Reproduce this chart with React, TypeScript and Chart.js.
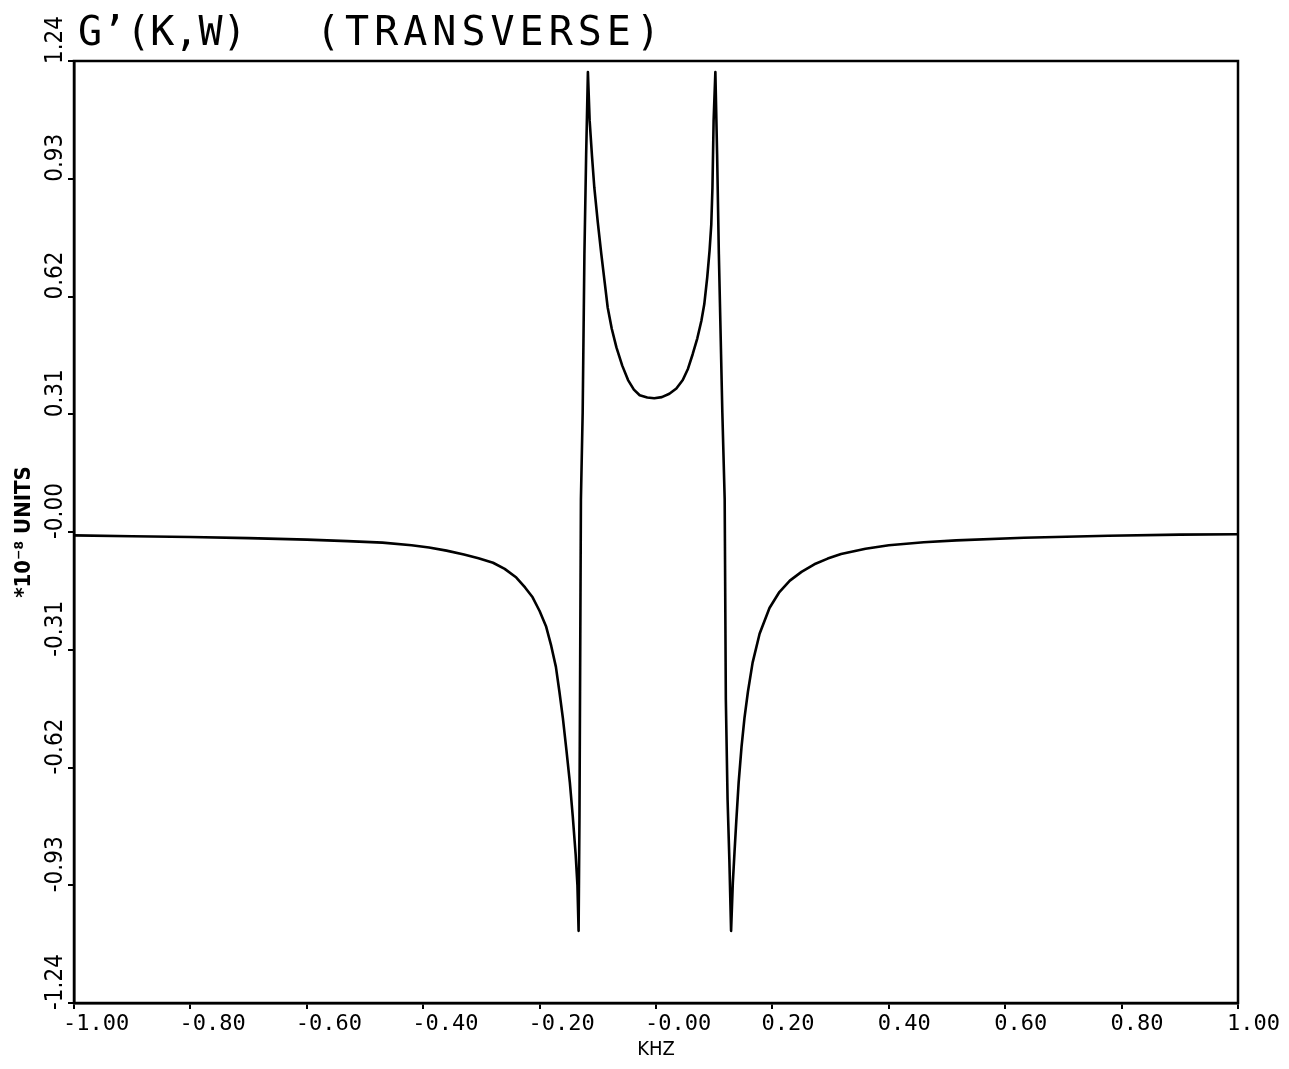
import React, { useEffect, useRef } from "react";
import { Chart, registerables } from "chart.js";

Chart.register(...registerables);

// ---- data ----
const freqKHz = [
  -1.0, -0.9, -0.8, -0.7, -0.6, -0.53, -0.47, -0.42, -0.39, -0.36, -0.33, -0.305,
  -0.28, -0.26, -0.24, -0.225, -0.212, -0.2, -0.189, -0.18, -0.172, -0.166, -0.16,
  -0.154, -0.148, -0.143, -0.138, -0.135, -0.133, -0.1315, -0.129, -0.126,
  -0.123, -0.12, -0.117, -0.114, -0.11, -0.106, -0.1, -0.094, -0.088, -0.083,
  -0.076, -0.068, -0.058, -0.048, -0.038, -0.028, -0.015, -0.003, 0.01, 0.023,
  0.035, 0.046, 0.055, 0.063, 0.071, 0.078, 0.083, 0.088, 0.092, 0.095, 0.097, 0.099,
  0.102, 0.105, 0.108, 0.114, 0.118, 0.12, 0.123, 0.126, 0.129, 0.132, 0.135,
  0.138, 0.142, 0.147, 0.152, 0.158, 0.166, 0.178, 0.195, 0.212, 0.23, 0.25,
  0.272, 0.295, 0.318, 0.36, 0.4, 0.46, 0.516, 0.632, 0.777, 0.9, 1.0,
];
const gPrimeTransverse = [
  -0.009, -0.011, -0.013, -0.016, -0.02, -0.024, -0.028, -0.035, -0.041, -0.049,
  -0.059, -0.069, -0.081, -0.097, -0.12, -0.146, -0.172, -0.208, -0.248, -0.3,
  -0.355, -0.42, -0.49, -0.573, -0.66, -0.749, -0.85, -0.93, -1.05, -0.75,
  0.086, 0.314, 0.732, 0.995, 1.211, 1.083, 0.99, 0.907, 0.815, 0.732, 0.655,
  0.591, 0.535, 0.486, 0.438, 0.4, 0.375, 0.36, 0.354, 0.352, 0.355, 0.364, 0.378,
  0.4, 0.43, 0.468, 0.51, 0.556, 0.6, 0.67, 0.74, 0.81, 0.907, 1.083, 1.211, 0.995,
  0.732, 0.314, 0.086, -0.441, -0.705, -0.86, -1.05, -0.924, -0.84, -0.76, -0.66,
  -0.565, -0.49, -0.42, -0.344, -0.268, -0.2, -0.158, -0.128, -0.105, -0.085,
  -0.07, -0.058, -0.044, -0.035, -0.027, -0.022, -0.015, -0.01, -0.007, -0.006,
];

const xTickValues = [-1.0, -0.8, -0.6, -0.4, -0.2, 0.0, 0.2, 0.4, 0.6, 0.8, 1.0];
const xTickLabels = ["-1.00", "-0.80", "-0.60", "-0.40", "-0.20", "-0.00", "0.20", "0.40", "0.60", "0.80", "1.00"];
const yTickValues = [-1.24, -0.93, -0.62, -0.31, 0.0, 0.31, 0.62, 0.93, 1.24];
const yTickLabels = ["-1.24", "-0.93", "-0.62", "-0.31", "-0.00", "0.31", "0.62", "0.93", "1.24"];

const titleLeft = "G’(K,W)";
const titleRight = "(TRANSVERSE)";
const xAxisTitle = "KHZ";
const yAxisTitle = "*10⁻⁸ UNITS";

const MONO = "'DejaVu Sans Mono', 'Liberation Mono', monospace";
const NARROW = "'Liberation Sans Narrow', 'DejaVu Sans Condensed', sans-serif";

const framePlugin = {
  id: "frameAndTitle",
  afterDraw(chart: any) {
    const { ctx, chartArea } = chart;
    ctx.save();
    ctx.strokeStyle = "#000";
    ctx.lineWidth = 2.5;
    ctx.strokeRect(chartArea.left, chartArea.top, chartArea.right - chartArea.left, chartArea.bottom - chartArea.top);
    ctx.fillStyle = "#000";
    ctx.font = `40px ${MONO}`;
    ctx.textBaseline = "alphabetic";
    ctx.textAlign = "left";
    try { (ctx as any).letterSpacing = "0px"; } catch (e) {}
    ctx.fillText(titleLeft, 78, 45);
    try { (ctx as any).letterSpacing = "5px"; } catch (e) {}
    ctx.fillText(titleRight, 316, 45);
    ctx.restore();
  },
};

export default function App() {
  const ref = useRef<HTMLCanvasElement | null>(null);

  useEffect(() => {
    if (!ref.current) return;
    const chart = new Chart(ref.current, {
      type: "line",
      data: {
        datasets: [
          {
            data: freqKHz.map((x, i) => ({ x, y: gPrimeTransverse[i] })),
            borderColor: "#000",
            borderWidth: 2.6,
            pointRadius: 0,
            tension: 0,
            borderJoinStyle: "round",
            fill: false,
          },
        ],
      },
      options: {
        responsive: false,
        animation: false,
        events: [],
        layout: { autoPadding: false, padding: { left: 0, top: 61, right: 51, bottom: 0 } },
        plugins: { legend: { display: false }, tooltip: { enabled: false }, title: { display: false } },
        scales: {
          x: {
            type: "linear",
            position: "bottom",
            min: -1,
            max: 1,
            afterBuildTicks: (s: any) => { s.ticks = xTickValues.map((v) => ({ value: v })); },
            afterFit: (s: any) => { s.height = 66; s.paddingLeft = 0; s.paddingRight = 0; },
            ticks: {
              autoSkip: false,
              minRotation: 0,
              maxRotation: 0,
              align: "start",
              labelOffset: -11,
              padding: 2,
              color: "#000",
              font: { family: MONO, size: 22 },
              callback: (_v: any, i: number) => xTickLabels[i],
            },
            grid: { display: true, drawOnChartArea: false, drawTicks: true, tickLength: 6, color: "#000", lineWidth: 2 },
            border: { display: true, color: "#000", width: 2.5 },
            title: { display: true, text: xAxisTitle, color: "#000", font: { family: NARROW, size: 20 }, padding: { top: 0, bottom: 7 } },
          },
          y: {
            type: "linear",
            position: "left",
            min: -1.24,
            max: 1.24,
            afterBuildTicks: (s: any) => { s.ticks = yTickValues.map((v) => ({ value: v })); },
            afterFit: (s: any) => { s.width = 74; s.paddingTop = 0; s.paddingBottom = 0; },
            ticks: {
              autoSkip: false,
              minRotation: 90,
              maxRotation: 90,
              crossAlign: "center",
              labelOffset: -21,
              padding: -16,
              color: "#000",
              font: { family: NARROW, size: 24 },
              callback: (_v: any, i: number) => yTickLabels[i],
            },
            grid: { display: true, drawOnChartArea: false, drawTicks: true, tickLength: 6, color: "#000", lineWidth: 2 },
            border: { display: true, color: "#000", width: 2.5 },
            title: { display: true, text: yAxisTitle, color: "#000", font: { family: NARROW, size: 22, weight: "bold" }, padding: { top: 11, bottom: 0 } },
          },
        },
      },
      plugins: [framePlugin],
    } as any);
    return () => chart.destroy();
  }, []);

  return (
    <div style={{ position: "fixed", left: 0, top: 0, width: 1289, height: 1069, background: "#fff" }}>
      <canvas ref={ref} width={1289} height={1069} style={{ display: "block", width: 1289, height: 1069 }} />
    </div>
  );
}
